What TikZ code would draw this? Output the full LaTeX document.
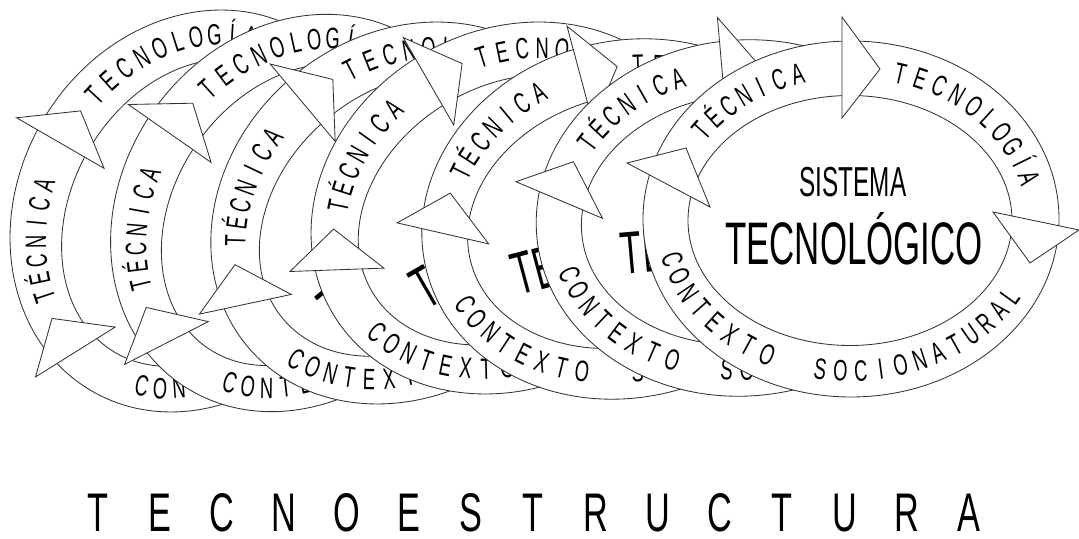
\documentclass[tikz,border=0pt]{standalone}
\usepackage{fontspec}
\setmainfont{Liberation Sans}
\newfontfamily\ringfont[FakeStretch=0.62]{Liberation Sans}
\newfontfamily\sysfont[FakeStretch=0.58]{Liberation Sans}
\newfontfamily\titlefont[FakeStretch=0.63]{Liberation Sans}

% letters along the ring: list, first angle, step, name
\newcommand\topword[4]{%
  \foreach \ch [count=\i from 0] in {#1} {
    \pgfmathsetmacro\ang{#2-#3*\i}
    \pgfmathsetmacro\rotang{atan2(-151.5*cos(\ang),185*sin(\ang))}
    \node[ringletter, rotate=\rotang] (#4\i) at (\ang:185 and 151.5) {\ch};
  }}
\newcommand\bottomword[4]{%
  \foreach \ch [count=\i from 0] in {#1} {
    \pgfmathsetmacro\ang{#2+#3*\i}
    \pgfmathsetmacro\rotang{atan2(151.5*cos(\ang),-185*sin(\ang))}
    \node[ringletter, rotate=\rotang] (#4\i) at (\ang:185 and 151.5) {\ch};
  }}

\tikzset{
  ringline/.style={draw=black!80, line width=0.6pt},
  arrowtri/.style={ringline, fill=white},
  ringletter/.style={font=\ringfont\fontsize{21}{22}\selectfont, inner sep=0pt, text height=15pt, text depth=0pt},
  sistema/.pic={
    \draw[ringline, fill=white] (0,0) ellipse [x radius=208, y radius=178];
    \draw[ringline] (-1,-1.5) ellipse [x radius=162, y radius=125];
    \topword{T,É,C,N,I,C,A}{144}{6.2}{tec}
    \topword{T,E,C,N,O,L,O,G,Í,A}{74.5}{6.55}{log}
    \bottomword{C,O,N,T,E,X,T,O}{195.5}{6.8}{con}
    \bottomword{S,O,C,I,O,N,A,T,U,R,A,L}{260.5}{6.25}{soc}
    \node[font=\sysfont\fontsize{29.8}{32}\selectfont, anchor=base] (sis) at (2,22) {SISTEMA};
    \node[font=\sysfont\fontsize{42.7}{46}\selectfont, anchor=base] (nom) at (3,-46) {TECNOLÓGICO};
    % flechas
    \draw[arrowtri] (-9,202) -- (29,150) -- (-9,101) -- cycle;
    \draw[arrowtri] (142,7) -- (179,-44) -- (228,-11) -- cycle;
    \draw[arrowtri] (-224,56) -- (-165,71) -- (-141,12) -- cycle;
  }
}

\begin{document}
\begin{tikzpicture}[x=0.025cm, y=0.025cm]
  \useasboundingbox (0,0) rectangle (1079,539);
  \pic[rotate=60, transform shape] (r1) at (196,328) {sistema};
  \pic[rotate=55, transform shape] (r2) at (299,326) {sistema};
  \pic[rotate=40, transform shape] (r3) at (407,326) {sistema};
  \pic[rotate=30, transform shape] (r4) at (512,331) {sistema};
  \pic[rotate=15, transform shape] (r5) at (628,320) {sistema};
  \pic[rotate=5, transform shape] (r6) at (744,321) {sistema};
  \pic (r7) at (851,320) {sistema};
  \foreach \ch [count=\i from 0] in {T,E,C,N,O,E,S,T,R,U,C,T,U,R,A}
    \node[font=\titlefont\fontsize{38.7}{40}\selectfont, anchor=base, inner sep=0pt] (titulo\i) at (97.5+62.25*\i,7) {\ch};
\end{tikzpicture}
\end{document}
